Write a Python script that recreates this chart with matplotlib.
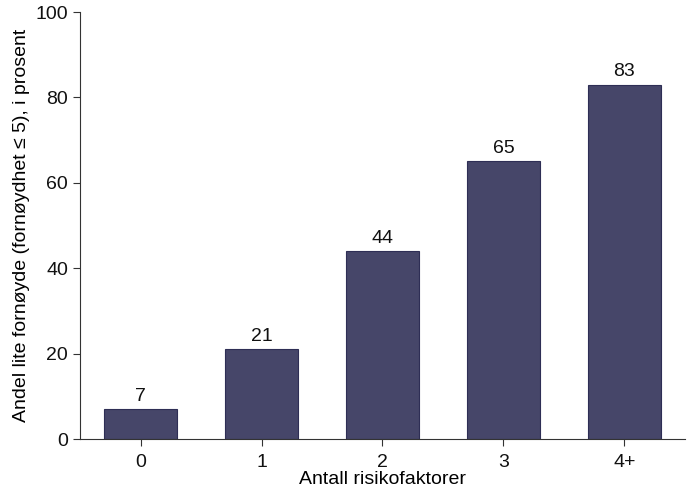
import matplotlib
matplotlib.use("Agg")
import matplotlib.pyplot as plt

# data
categories = ["0", "1", "2", "3", "4+"]
values = [7, 21, 44, 65, 83]

plt.rcParams["font.family"] = ["Liberation Sans", "DejaVu Sans"]

fig = plt.figure(figsize=(6.88, 4.92), dpi=100)
ax = fig.add_axes([0.1163, 0.1077, 0.8793, 0.8679])

x = range(len(categories))
bars = ax.bar(x, values, width=0.6, color="#464669", edgecolor="#2e2e55", linewidth=0.8)

for xi, v in zip(x, values):
    ax.text(xi, v + 1.0, str(v), ha="center", va="bottom", fontsize=14, color="#111111")

ax.set_xlim(-0.5, 4.5)
ax.set_ylim(0, 100)
ax.set_xticks(list(x))
ax.set_xticklabels(categories)
ax.set_yticks([0, 20, 40, 60, 80, 100])

ax.spines["top"].set_visible(False)
ax.spines["right"].set_visible(False)
ax.spines["left"].set_color("#333333")
ax.spines["bottom"].set_color("#333333")
ax.tick_params(axis="both", labelsize=14, length=5, color="#333333", labelcolor="#111111")
ax.tick_params(axis="x", pad=6)

ax.set_xlabel("Antall risikofaktorer", fontsize=14, labelpad=0)
ax.set_ylabel("Andel lite fornøyde (fornøydhet \u2264 5), i prosent", fontsize=14, labelpad=4)

fig.savefig("out.png", dpi=100)
